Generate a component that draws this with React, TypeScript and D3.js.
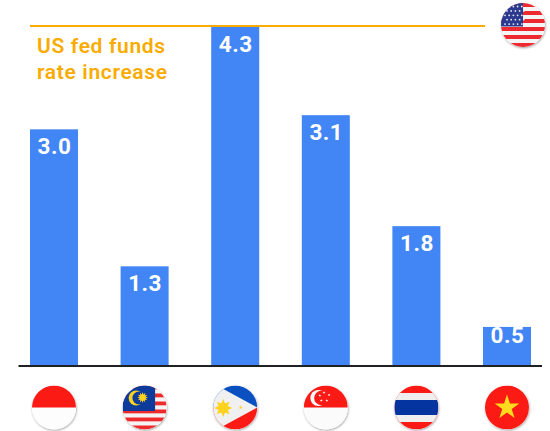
import React from "react";
import * as d3 from "d3";

const countries = ["Indonesia", "Malaysia", "Philippines", "Singapore", "Thailand", "Vietnam"];
const rateValues = [3.0, 1.26, 4.3, 3.18, 1.77, 0.49];
const rateLabels = ["3.0", "1.3", "4.3", "3.1", "1.8", "0.5"];
const fedFundsValue = 4.3;
const fedLabelLines = ["US fed funds", "rate increase"];

const W = 550, H = 431;
const BLUE = "#4285f4", AMBER = "#f9ab00", RED = "#fb1a14", FONT = "'Roboto', sans-serif";

const x = d3.scaleBand<string>().domain(countries).range([30, 531]).paddingInner(0.47).paddingOuter(0);
const y = d3.scaleLinear().domain([0, 4.3]).range([365.5, 27]);
const R = 22;

const star = (cx: number, cy: number, r: number, inner = 0.382) => {
  const pts: string[] = [];
  for (let i = 0; i < 10; i++) {
    const a = -Math.PI / 2 + (i * Math.PI) / 5;
    const rr = i % 2 ? r * inner : r;
    pts.push(`${cx + rr * Math.cos(a)},${cy + rr * Math.sin(a)}`);
  }
  return pts.join(" ");
};
const sun = (cx: number, cy: number, r: number, rays: number) => {
  const pts: string[] = [];
  for (let i = 0; i < rays * 2; i++) {
    const a = (i * Math.PI) / rays;
    const rr = i % 2 ? r * 0.55 : r;
    pts.push(`${cx + rr * Math.cos(a)},${cy + rr * Math.sin(a)}`);
  }
  return pts.join(" ");
};

const Stripes = ({ colors, y0, h }: { colors: string[]; y0: number; h: number }) => (
  <>
    {colors.map((c, i) => (
      <rect key={i} x={-R} y={y0 + i * h} width={2 * R} height={h + 0.2} fill={c} />
    ))}
  </>
);

const flags: Record<string, React.ReactNode> = {
  Indonesia: (
    <>
      <rect x={-R} y={-R} width={2 * R} height={2 * R} fill="#fdfdfd" />
      <rect x={-R} y={-R} width={2 * R} height={R} fill={RED} />
    </>
  ),
  Malaysia: (
    <>
      <Stripes colors={d3.range(11).map((i) => (i % 2 ? "#f4f4f4" : "#ee2a2a"))} y0={-R} h={4} />
      <rect x={-R} y={-R} width={32.5} height={25.5} fill="#0c3b9c" />
      <circle cx={-8.5} cy={-9.5} r={7.5} fill="#ffd21e" />
      <circle cx={-5.8} cy={-9.5} r={6.4} fill="#0c3b9c" />
      <polygon points={sun(-2, -10, 5.5, 12)} fill="#ffd21e" />
    </>
  ),
  Philippines: (
    <>
      <rect x={-R} y={-R} width={2 * R} height={R} fill="#0b50c0" />
      <rect x={-R} y={0} width={2 * R} height={R} fill={RED} />
      <polygon points={`${-R},${-R - 2} ${-R},${R + 2} 22,0`} fill="#f0f0f0" />
      <polygon points={sun(-12, 0.5, 9, 8)} fill="#ffd21e" />
      <circle cx={-12} cy={0.5} r={5} fill="#ffd21e" />
      <polygon points={star(5.5, 0, 2.2)} fill="#ffd21e" />
    </>
  ),
  Singapore: (
    <>
      <rect x={-R} y={-R} width={2 * R} height={2 * R} fill="#fbfbfb" />
      <rect x={-R} y={-R} width={2 * R} height={R} fill={RED} />
      <circle cx={-7.5} cy={-9.5} r={8} fill="#fbfbfb" />
      <circle cx={-4.5} cy={-9.5} r={7.2} fill={RED} />
      {[[-3.3, -15], [1.8, -12.5], [-0.5, -7], [-6, -7], [-7.5, -12]].map(([a, b], i) => (
        <polygon key={i} points={star(a + 1.5, b, 1.6)} fill="#fbfbfb" />
      ))}
    </>
  ),
  Thailand: (
    <>
      <rect x={-R} y={-R} width={2 * R} height={2 * R} fill={RED} />
      <rect x={-R} y={-14.5} width={2 * R} height={29} fill="#efefef" />
      <rect x={-R} y={-7.5} width={2 * R} height={15} fill="#0334a0" />
    </>
  ),
  Vietnam: (
    <>
      <rect x={-R} y={-R} width={2 * R} height={2 * R} fill={RED} />
      <polygon points={star(0, 0, 13)} fill="#ffdb1d" />
    </>
  ),
  US: (
    <>
      <Stripes colors={d3.range(11).map((i) => (i % 2 ? "#f4f4f4" : "#ee2a30"))} y0={-R} h={4} />
      <rect x={-R} y={-R} width={22} height={23.5} fill="#2b3a8f" />
      {d3.range(5).flatMap((r) =>
        d3.range(5).map((c) => (
          <circle key={`${r}-${c}`} cx={-18 + c * 4.2 + (r % 2) * 2} cy={-18.5 + r * 4.4} r={0.9} fill="#e8e8f4" />
        ))
      )}
    </>
  ),
};

const Flag = ({ id, cx, cy }: { id: string; cx: number; cy: number }) => (
  <g transform={`translate(${cx},${cy})`}>
    <circle r={R} fill="#fff" filter="url(#shadow)" />
    <g clipPath="url(#flagClip)">{flags[id]}</g>
  </g>
);

export default function App() {
  return (
    <svg width={W} height={H} style={{ position: "absolute", left: 0, top: 0, display: "block" }} fontFamily={FONT}>
      <defs>
        <clipPath id="flagClip"><circle r={R} /></clipPath>
        <filter id="shadow" x="-30%" y="-30%" width="160%" height="160%">
          <feDropShadow dx={0.5} dy={1} stdDeviation={1} floodColor="#000" floodOpacity={0.4} />
        </filter>
      </defs>
      {countries.map((c, i) => {
        const barH = y(0) - y(rateValues[i]);
        return (
          <g key={c}>
            <rect x={x(c)} y={y(rateValues[i])} width={x.bandwidth()} height={barH} fill={BLUE} />
            <text x={x(c)! + x.bandwidth() / 2 + 0.5} y={y(rateValues[i]) + (barH < 50 ? 16 : 25)} textAnchor="middle" fill="#fff" fontSize={22.5} fontWeight={700} letterSpacing={0.5}>
              {rateLabels[i]}
            </text>
            <Flag id={c} cx={x(c)! + x.bandwidth() / 2} cy={407.5} />
          </g>
        );
      })}
      <line x1={30} x2={485} y1={y(fedFundsValue) - 1} y2={y(fedFundsValue) - 1} stroke={AMBER} strokeWidth={2} />
      <line x1={18.5} x2={542} y1={366} y2={366} stroke="#202124" strokeWidth={2} />
      {fedLabelLines.map((t, i) => (
        <text key={t} x={37} y={52.5 + i * 26} fill={AMBER} fontSize={21} fontWeight={600} letterSpacing={0.65}>{t}</text>
      ))}
      <Flag id="US" cx={523} cy={25} />
    </svg>
  );
}
